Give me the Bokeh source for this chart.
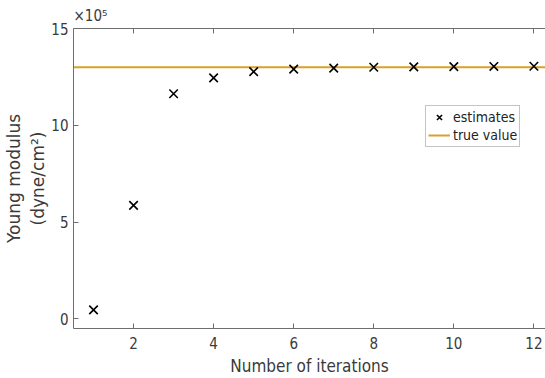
from bokeh.plotting import figure
from bokeh.models import Range1d, LinearAxis, FixedTicker, Legend, LegendItem
from bokeh.embed import file_html
from bokeh.resources import INLINE

# data (values in units of 1e5 dyne/cm^2)
iterations = [1, 2, 3, 4, 5, 6, 7, 8, 9, 10, 11, 12]
estimates = [0.46, 5.86, 11.63, 12.45, 12.77, 12.90, 12.95, 13.00, 13.02, 13.03, 13.04, 13.05]
true_value = 13.0
x_ticks = [2, 4, 6, 8, 10, 12]
y_ticks = [0, 5, 10, 15]

x_start, x_end = 0.5, 12.29
y_start, y_end = -0.5, 15

FONT = "DejaVu Sans Condensed"
AX = "#6e6e6e"
TXT = "#3a3a3a"

p = figure(width=545, height=378, output_backend="svg", toolbar_location=None,
           x_range=Range1d(x_start, x_end), y_range=Range1d(y_start, y_end),
           min_border_left=73, min_border_right=0, min_border_top=0, min_border_bottom=48,
           title="×10⁵")
p.outline_line_color = None
p.xgrid.visible = False
p.ygrid.visible = False
p.background_fill_color = "white"
p.border_fill_color = "white"

p.title.text_font = FONT
p.title.text_font_size = "15px"
p.title.text_font_style = "normal"
p.title.text_color = TXT
p.title.align = "left"
p.title.offset = 0
p.title.standoff = 8

for ax in (p.xaxis[0], p.yaxis[0]):
    ax.axis_line_color = AX
    ax.major_tick_line_color = AX
    ax.major_tick_in = 5
    ax.major_tick_out = 0
    ax.minor_tick_line_color = None
    ax.major_label_text_font = FONT
    ax.major_label_text_font_size = "15px"
    ax.major_label_text_color = TXT

p.xaxis[0].ticker = FixedTicker(ticks=x_ticks)
p.yaxis[0].ticker = FixedTicker(ticks=y_ticks)
p.xaxis[0].major_label_standoff = 8
p.yaxis[0].major_label_standoff = 5
p.xaxis[0].axis_label = "Number of iterations"
p.xaxis[0].axis_label_text_font = FONT
p.xaxis[0].axis_label_text_font_size = "17px"
p.xaxis[0].axis_label_text_font_style = "normal"
p.xaxis[0].axis_label_text_color = TXT
p.xaxis[0].axis_label_standoff = 4

p.yaxis[0].axis_label = "Young modulus\n(dyne/cm²)"
p.yaxis[0].axis_label_text_font = "DejaVu Sans"
p.yaxis[0].axis_label_text_font_size = "17px"
p.yaxis[0].axis_label_text_font_style = "normal"
p.yaxis[0].axis_label_text_color = TXT
p.yaxis[0].axis_label_standoff = 0

top = LinearAxis(ticker=FixedTicker(ticks=x_ticks), axis_line_color=AX,
                 major_tick_line_color=AX, major_tick_in=5, major_tick_out=0,
                 minor_tick_line_color=None, major_label_text_font_size="0px")
top.major_label_overrides = {t: "" for t in x_ticks}
p.add_layout(top, "above")

# true value line
line = p.line(x=[x_start, 12.5], y=[true_value, true_value], line_color="#D9A02A", line_width=2)
# estimates
pts = p.scatter(x=iterations, y=estimates, marker="x", size=12, line_color="black", line_width=1.6)

legend = Legend(items=[LegendItem(label="estimates", renderers=[pts]),
                       LegendItem(label="true value", renderers=[line])],
                location=(352, 181))
legend.border_line_color = "#8a8a8a"
legend.border_line_width = 1
legend.padding = 2
legend.margin = 0
legend.spacing = 0
legend.label_text_font = FONT
legend.label_text_font_size = "14px"
legend.label_text_color = "#222222"
legend.label_height = 18
legend.glyph_height = 18
legend.glyph_width = 22
legend.label_standoff = 3
legend.background_fill_alpha = 1
p.add_layout(legend, "center")

open("out.html", "w").write(file_html(p, INLINE))
